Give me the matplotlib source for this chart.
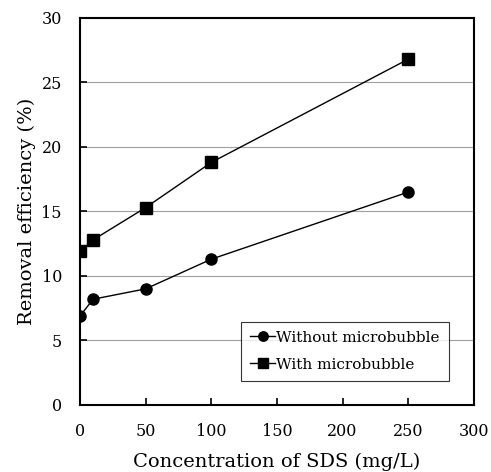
import numpy as np
import matplotlib
matplotlib.use('Agg')
import matplotlib.pyplot as plt

# SDS concentration (mg/L)
conc = [0, 10, 50, 100, 250]
# removal efficiency (%)
without_mb = [6.9, 8.2, 9.0, 11.3, 16.5]
with_mb = [11.9, 12.8, 15.3, 18.8, 26.8]

x_ticks = [0, 50, 100, 150, 200, 250, 300]
y_ticks = [0, 5, 10, 15, 20, 25, 30]

plt.rcParams['font.family'] = ['DejaVu Serif']

fig = plt.figure(figsize=(4.91, 4.72), dpi=100)
ax = fig.add_axes([0.163, 0.142, 0.802, 0.820])

ax.plot(conc, without_mb, color='black', lw=1, marker='o', markersize=8,
        label='Without microbubble', zorder=3)
ax.plot(conc, with_mb, color='black', lw=1, marker='s', markersize=8.5,
        label='With microbubble', zorder=3)

ax.set_xlim(0, 300)
ax.set_ylim(0, 30)
ax.set_xticks(x_ticks)
ax.set_yticks(y_ticks)
ax.yaxis.grid(True, color='#a0a0a0', lw=0.8)
ax.set_axisbelow(True)
ax.tick_params(direction='in', length=5, width=1.2, labelsize=11.5)
ax.tick_params(axis='x', pad=13)
ax.tick_params(axis='y', pad=13)
for s in ax.spines.values():
    s.set_linewidth(1.5)
for lbl in ax.get_xticklabels() + ax.get_yticklabels():
    lbl.set_clip_on(False)

ax.set_xlabel('Concentration of SDS (mg/L)', fontsize=14, labelpad=9)
ax.set_ylabel('Removal efficiency (%)', fontsize=14, labelpad=4)

leg = ax.legend(loc='lower right', bbox_to_anchor=(0.937, 0.062), fontsize=11,
                frameon=True, fancybox=False, edgecolor='black',
                handlelength=1.6, handletextpad=0.1, borderpad=0.6,
                labelspacing=0.85, markerscale=0.85, borderaxespad=0)
leg.get_frame().set_linewidth(0.8)

fig.savefig('out.png', dpi=100)
